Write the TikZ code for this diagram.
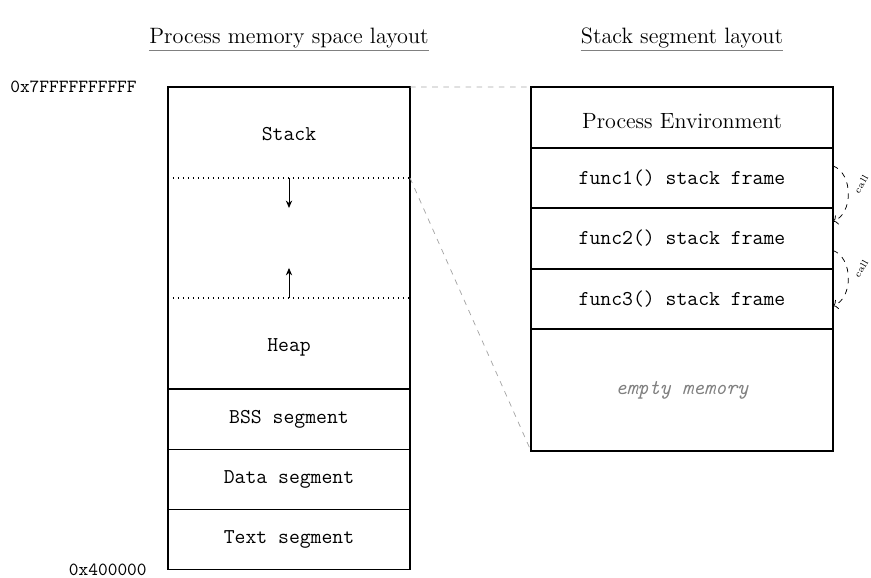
\documentclass[tikz,border=0pt]{standalone}
\usepackage{tikz}
\usetikzlibrary{arrows.meta,positioning}
\tikzset{
  seg/.style={rectangle,inner sep=0pt,outer sep=0pt,minimum width=130.7pt,font=\fontsize{11.4}{13}\ttfamily},
  segbox/.style={seg,draw,line width=.7pt},
  frame/.style={rectangle,draw,line width=.7pt,inner sep=0pt,outer sep=0pt,minimum width=163.1pt,minimum height=32.4pt,font=\fontsize{11.4}{13}\ttfamily},
  outline/.style={line width=.7pt},
  limit/.style={line width=.7pt,dotted},
  growarrow/.style={line width=.5pt,-{Stealth[length=4pt,width=3.4pt]}},
  zoomline/.style={gray!70,line width=.4pt,dashed},
  callarc/.style={line width=.4pt,dashed,->},
  calllab/.style={font=\tiny,inner sep=.5pt},
  heading/.style={inner sep=0pt,font=\fontsize{12}{14}\selectfont},
  headrule/.style={gray,line width=.8pt},
  addr/.style={inner sep=0pt,font=\ttfamily}
}
\begin{document}
\begin{tikzpicture}[x=.54pt,y=-.54pt]
  \useasboundingbox (0,0) rectangle (871,578);

  % process memory
  \node[seg,minimum height=49.1pt,text height=9pt,text depth=0pt] (stack) at (289,132.5) {Stack};
  \node[seg,minimum height=64.8pt,below=0pt of stack] (gap) {};
  \node[seg,minimum height=49.1pt,text height=9pt,text depth=0pt,below=0pt of gap] (heap) {Heap};
  \node[segbox,minimum height=32.9pt,below=0pt of heap] (bss) {BSS segment};
  \node[segbox,minimum height=32.4pt,below=0pt of bss] (data) {Data segment};
  \node[segbox,minimum height=32.4pt,below=0pt of data] (text) {Text segment};
  \draw[outline] (stack.north west) rectangle (text.south east);
  \draw[limit] (stack.south west) -- (stack.south east);
  \draw[limit] (heap.north west) -- (heap.north east);
  \draw[growarrow] (stack.south) -- ++(0,30);
  \draw[growarrow] (heap.north) -- ++(0,-30);

  \node[addr,left=16.7pt of stack.north west] (top) {0x7FFFFFFFFFF};
  \node[addr,left=11.3pt of text.south west] (bottom) {0x400000};

  % stack segment
  \node[frame,minimum height=32.9pt,text height=12pt,text depth=0pt,font=\fontsize{11.9}{14}\selectfont] (env) at (682,117.5) {Process Environment};
  \node[frame,below=0pt of env] (f1) {func1() stack frame};
  \node[frame,minimum height=32.9pt,below=0pt of f1] (f2) {func2() stack frame};
  \node[frame,below=0pt of f2] (f3) {func3() stack frame};
  \node[frame,minimum height=65.9pt,below=0pt of f3,text=gray] (empty) {\itshape empty memory};

  \draw[callarc] ([yshift=6.5pt]f1.east) to[bend left=70] node[calllab,midway,right=4pt,rotate=60] {call} ([yshift=9.2pt]f2.east);
  \draw[callarc] ([yshift=-6.5pt]f2.east) to[bend left=70] node[calllab,midway,right=4pt,rotate=60] {call} ([yshift=-3.8pt]f3.east);

  % zoom lines
  \draw[zoomline] (stack.north east) -- (env.north west);
  \draw[zoomline] (stack.south east) -- (empty.south west);

  % headings
  \node[heading,above=21pt of stack] (lhead) {Process memory space layout};
  \node[heading,above=21pt of env] (rhead) {Stack segment layout};
  \draw[headrule] ([yshift=-1.3pt]lhead.south west) -- ([yshift=-1.3pt]lhead.south east);
  \draw[headrule] ([yshift=-1.3pt]rhead.south west) -- ([yshift=-1.3pt]rhead.south east);
\end{tikzpicture}
\end{document}
